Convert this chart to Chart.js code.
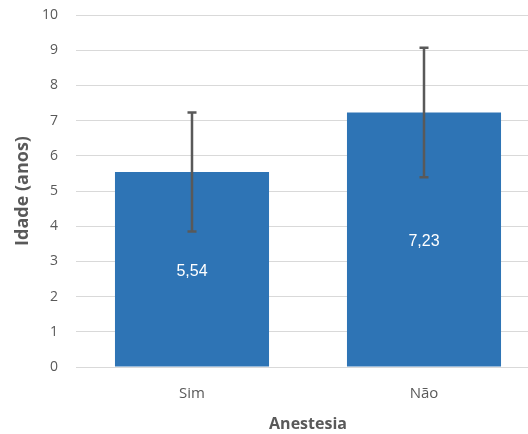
<!DOCTYPE html>
<html><head><meta charset="utf-8">
<script src="https://cdn.jsdelivr.net/npm/chart.js@4/dist/chart.umd.min.js"></script>
<style>
html,body{margin:0;padding:0;background:#fff;overflow:hidden;width:528px;height:434px}
#wrap{width:540px;height:434px;position:relative}
</style></head>
<body><div id="wrap"><canvas id="c"></canvas></div>
<script>
const categories = ["Sim", "Não"];
const means = [5.54, 7.23];
const errLow = [3.85, 5.39];
const errHigh = [7.23, 9.07];
const valueLabels = ["5,54", "7,23"];
const yTicks = [0,1,2,3,4,5,6,7,8,9,10];

const errorBars = {
  id: 'errorBars',
  afterDatasetsDraw(chart) {
    const ctx = chart.ctx, y = chart.scales.y;
    const meta = chart.getDatasetMeta(0);
    ctx.save();
    ctx.strokeStyle = '#595959';
    ctx.lineWidth = 2.5;
    meta.data.forEach((bar, i) => {
      const x = bar.x;
      const yt = y.getPixelForValue(errHigh[i]);
      const yb = y.getPixelForValue(errLow[i]);
      ctx.beginPath();
      ctx.moveTo(x, yt); ctx.lineTo(x, yb);
      ctx.moveTo(x - 4.5, yt); ctx.lineTo(x + 4.5, yt);
      ctx.moveTo(x - 4.5, yb); ctx.lineTo(x + 4.5, yb);
      ctx.stroke();
    });
    ctx.restore();
  }
};
const dataLabels = {
  id: 'dataLabels',
  afterDatasetsDraw(chart) {
    const ctx = chart.ctx;
    const meta = chart.getDatasetMeta(0);
    ctx.save();
    ctx.fillStyle = '#ffffff';
    ctx.font = '16px "Liberation Sans", Arial, sans-serif';
    ctx.textAlign = 'center';
    ctx.textBaseline = 'middle';
    meta.data.forEach((bar, i) => {
      ctx.fillText(valueLabels[i], bar.x, (bar.y + bar.base) / 2 + 2);
    });
    ctx.restore();
  }
};

new Chart(document.getElementById('c'), {
  type: 'bar',
  data: {
    labels: categories,
    datasets: [{
      data: means,
      backgroundColor: '#2E74B5',
      borderWidth: 0,
      categoryPercentage: 0.664,
      barPercentage: 1.0
    }]
  },
  options: {
    responsive: true,
    maintainAspectRatio: false,
    animation: false,
    layout: { padding: { top: 15, left: 0, right: 0, bottom: 0 } },
    plugins: { legend: { display: false }, tooltip: { enabled: false } },
    scales: {
      x: {
        grid: { display: false, drawTicks: false },
        border: { display: true, color: '#d9d9d9', width: 1 },
        ticks: { color: '#595959', font: { family: '"Open Sans", sans-serif', size: 15 }, padding: 18 },
        title: { display: true, text: 'Anestesia', color: '#595959', font: { family: '"Open Sans", sans-serif', size: 16, weight: 'bold' }, padding: { top: 3, bottom: 0 } },
        afterFit(s) { s.height = 67; }
      },
      y: {
        min: 0, max: 10,
        afterBuildTicks(s) { s.ticks = yTicks.map(v => ({ value: v })); },
        grid: { color: '#d9d9d9', lineWidth: 1, drawTicks: false },
        border: { display: false },
        ticks: { color: '#595959', font: { family: '"Open Sans", sans-serif', size: 14 }, padding: 18 },
        title: { display: true, text: 'Idade (anos)', color: '#595959', font: { family: '"Open Sans", sans-serif', size: 18, weight: 'bold' }, padding: { top: 12, bottom: 0 } },
        afterFit(s) { s.width = 76; s.paddingTop = 0; s.paddingBottom = 0; }
      }
    }
  },
  plugins: [errorBars, dataLabels]
});
</script></body></html>
